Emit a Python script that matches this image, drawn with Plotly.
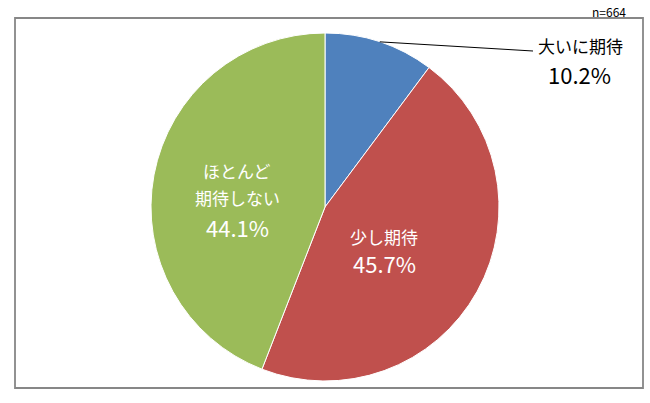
import math
import plotly.graph_objects as go

# data
labels = ["大いに期待", "少し期待", "ほとんど<br>期待しない"]
pct = [10.2, 45.7, 44.1]
colors = ["#4F81BD", "#C0504D", "#9BBB59"]
n_total = 664

W, H = 650, 403
cx, cy, r = 325, 207, 174  # pie centre / radius in pixels


def px(x):
    return x / W


def py(y):
    return 1 - y / H


fig = go.Figure(go.Pie(
    labels=labels,
    values=pct,
    sort=False,
    direction="clockwise",
    rotation=0,
    marker=dict(colors=colors, line=dict(color="white", width=1)),
    textinfo="none",
    hoverinfo="label+percent",
    showlegend=False,
    domain=dict(x=[px(cx - r), px(cx + r)], y=[py(cy + r), py(cy - r)]),
))

# mid angle of each slice, clockwise from 12 o'clock
mids = []
acc = 0
for v in pct:
    mids.append((acc + v / 2) / sum(pct) * 2 * math.pi)
    acc += v

jp = "Noto Sans CJK JP"
annotations = []

# outside label for the small slice, with a leader line
ex = cx + r * math.sin(mids[0])
ey = cy - r * math.cos(mids[0])
line_end = (533, 51)
annotations.append(dict(x=px(580), y=py(46), text=labels[0],
                        font=dict(family=jp, size=17, color="black")))
annotations.append(dict(x=px(579), y=py(74), text=f"{pct[0]}%",
                        font=dict(family=jp, size=22, color="black")))

# inside labels: text centre x, y of each line, y of the percentage
inside = {1: (384, [236], 263), 2: (237, [170, 197], 227)}
for i, (tx, ys, ty_pct) in inside.items():
    for part, ty in zip(labels[i].split("<br>"), ys):
        annotations.append(dict(x=px(tx), y=py(ty), text=part,
                                font=dict(family=jp, size=17, color="white")))
    annotations.append(dict(x=px(tx), y=py(ty_pct), text=f"{pct[i]}%",
                            font=dict(family=jp, size=22, color="white")))

for a in annotations:
    a.update(xanchor="center", yanchor="middle")

annotations.append(dict(x=px(628), y=py(12), xanchor="right", yanchor="middle",
                        text=f"n={n_total}",
                        font=dict(family=jp, size=12, color="black")))

for a in annotations:
    a.update(xref="paper", yref="paper", showarrow=False)

fig.update_layout(
    width=W, height=H,
    margin=dict(l=0, r=0, t=0, b=0),
    paper_bgcolor="white",
    annotations=annotations,
    shapes=[
        dict(type="rect", xref="paper", yref="paper",
             x0=px(15), x1=px(643), y0=py(388), y1=py(18),
             line=dict(color="#878787", width=1.8)),
        dict(type="line", xref="paper", yref="paper",
             x0=px(ex), y0=py(ey), x1=px(line_end[0]), y1=py(line_end[1]),
             line=dict(color="black", width=1)),
    ],
)

fig.write_html("out.html", config={"displayModeBar": False},
               post_script="document.body.style.margin='0';")
